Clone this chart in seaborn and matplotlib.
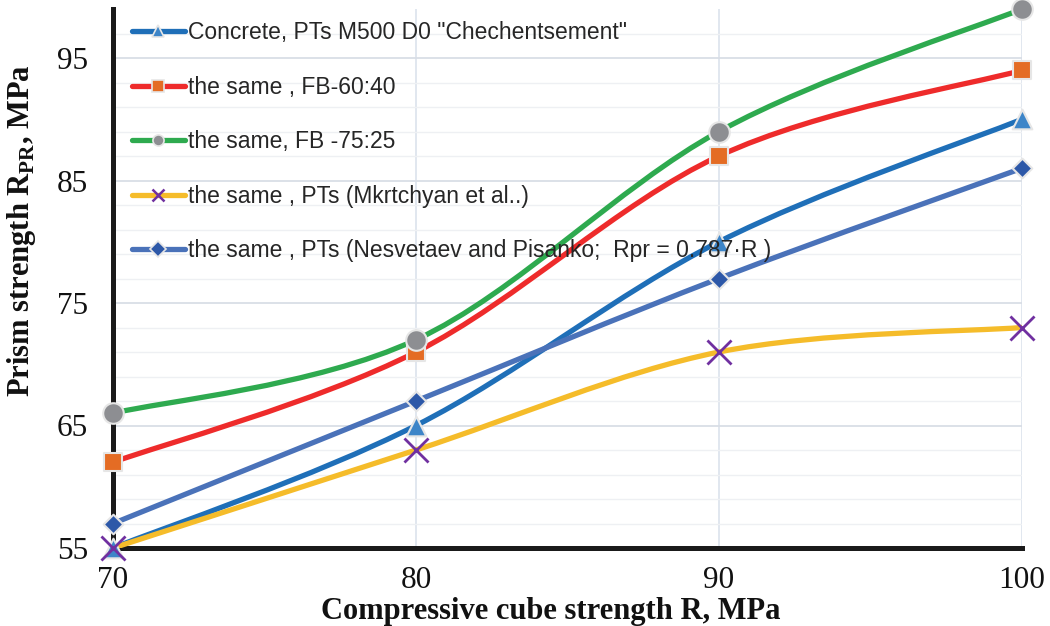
import numpy as np
import pandas as pd
import matplotlib
matplotlib.use("Agg")
import matplotlib.pyplot as plt
import seaborn as sns
from matplotlib.path import Path
from matplotlib.patches import PathPatch
from matplotlib.lines import Line2D

# data
cube_strength = [70, 80, 90, 100]
concrete_m500 = [55, 65, 80, 90]
fb_60_40 = [62, 71, 87, 94]
fb_75_25 = [66, 72, 89, 99]
mkrtchyan = [55, 63, 71, 73]
nesvetaev = [57, 67, 77, 86]

series_names = [
    'Concrete, PTs M500 D0 "Chechentsement"',
    "the same , FB-60:40",
    "the same, FB -75:25",
    "the same , PTs (Mkrtchyan et al..)",
    "the same , PTs (Nesvetaev and Pisanko;  Rpr = 0.787·R )",
]
series_values = [concrete_m500, fb_60_40, fb_75_25, mkrtchyan, nesvetaev]

# line colour, marker, marker colour, marker size (scatter s)
styles = [
    ("#1F6FB8", "^", "#3D85C8", 200),
    ("#EE2B2B", "s", "#E46C24", 180),
    ("#2EAA4F", "o", "#8D8E92", 220),
    ("#F5BC2A", "x", "#7030A0", 300),
    ("#4A72B9", "D", "#2D58A8", 100),
]

sns.set_theme(style="white")
plt.rcParams["mathtext.fontset"] = "custom"
plt.rcParams["mathtext.bf"] = "Liberation Serif:bold"
plt.rcParams["mathtext.rm"] = "Liberation Serif"


def smooth_path(x, y):
    # excel-like smoothed line (catmull-rom as bezier segments)
    pts = np.column_stack([x, y]).astype(float)
    n = len(pts)
    verts = [pts[0]]
    codes = [Path.MOVETO]
    for i in range(n - 1):
        p0 = pts[max(i - 1, 0)]
        p1 = pts[i]
        p2 = pts[i + 1]
        p3 = pts[min(i + 2, n - 1)]
        verts += [p1 + (p2 - p0) / 6, p2 - (p3 - p1) / 6, p2]
        codes += [Path.CURVE4] * 3
    return Path(verts, codes)


fig = plt.figure(figsize=(10.5, 6.26), dpi=100)
ax = fig.add_axes([113 / 1050, 1 - 548 / 626, (1022 - 113) / 1050, (548 - 9) / 626])

handles = []
for i, (name, vals) in enumerate(zip(series_names, series_values)):
    lc, mk, mc, ms = styles[i]
    df = pd.DataFrame({"R": cube_strength, "Rpr": vals})
    ax.add_patch(PathPatch(smooth_path(df["R"], df["Rpr"]), facecolor="none",
                           edgecolor=lc, lw=3.8, zorder=3 + i, capstyle="round"))
    if mk == "x":
        sns.scatterplot(data=df, x="R", y="Rpr", marker=mk, s=ms, color=mc,
                        linewidth=2.0, zorder=10 + i, clip_on=False, ax=ax)
    else:
        sns.scatterplot(data=df, x="R", y="Rpr", marker=mk, s=ms, color=mc,
                        edgecolor="#E6E6E6", linewidth=1.5, zorder=10 + i,
                        clip_on=False, ax=ax)
    handles.append(Line2D([0], [0], color=lc, lw=3.8, marker=mk, markersize=8,
                          markerfacecolor=mc, markeredgecolor="#E6E6E6" if mk != "x" else mc,
                          markeredgewidth=1.2 if mk != "x" else 1.8, label=name))

ax.set_xlim(70, 100)
ax.set_ylim(55, 99)
ax.set_xticks([70, 80, 90, 100])
ax.set_yticks([55, 65, 75, 85, 95])
ax.set_yticks(np.arange(57, 99, 2), minor=True)

ax.grid(axis="x", which="major", color="#DCE3EC", lw=1.2, zorder=0)
ax.grid(axis="y", which="major", color="#D9DEE6", lw=1.3, zorder=0)
ax.grid(axis="y", which="minor", color="#EEF0F3", lw=1.0, zorder=0)

for s in ["top", "right"]:
    ax.spines[s].set_visible(False)
for s in ["left", "bottom"]:
    ax.spines[s].set_color("#1A1A1A")
    ax.spines[s].set_linewidth(3.6)
    ax.spines[s].set_zorder(2)

ax.tick_params(axis="both", which="both", length=0)
ax.tick_params(axis="x", pad=13)
ax.tick_params(axis="y", pad=18)
for lab in ax.get_xticklabels() + ax.get_yticklabels():
    lab.set_fontfamily("Liberation Serif")
    lab.set_fontsize(22.5)
    lab.set_color("#111111")

ax.set_xlabel("Compressive cube strength R, MPa", fontfamily="Liberation Serif",
              fontsize=22, fontweight="bold", color="#111111")
ax.set_ylabel(r"Prism strength R$_{\mathbf{PR}}$, MPa", fontfamily="Liberation Serif",
              fontsize=22, fontweight="bold", color="#111111")
ax.xaxis.set_label_coords(0.482, -0.09)
ax.yaxis.set_label_coords(-0.083, 0.588)

leg = ax.legend(handles=handles, loc="upper left", bbox_to_anchor=(132 / 1050, 1 - 21 / 626),
                bbox_transform=fig.transFigure, frameon=False, borderpad=0, borderaxespad=0,
                handlelength=2.3, handletextpad=0.15, labelspacing=1.38,
                prop={"family": "Liberation Sans", "size": 16.5})
leg.set_zorder(20)

plt.savefig("out.png", dpi=100)
